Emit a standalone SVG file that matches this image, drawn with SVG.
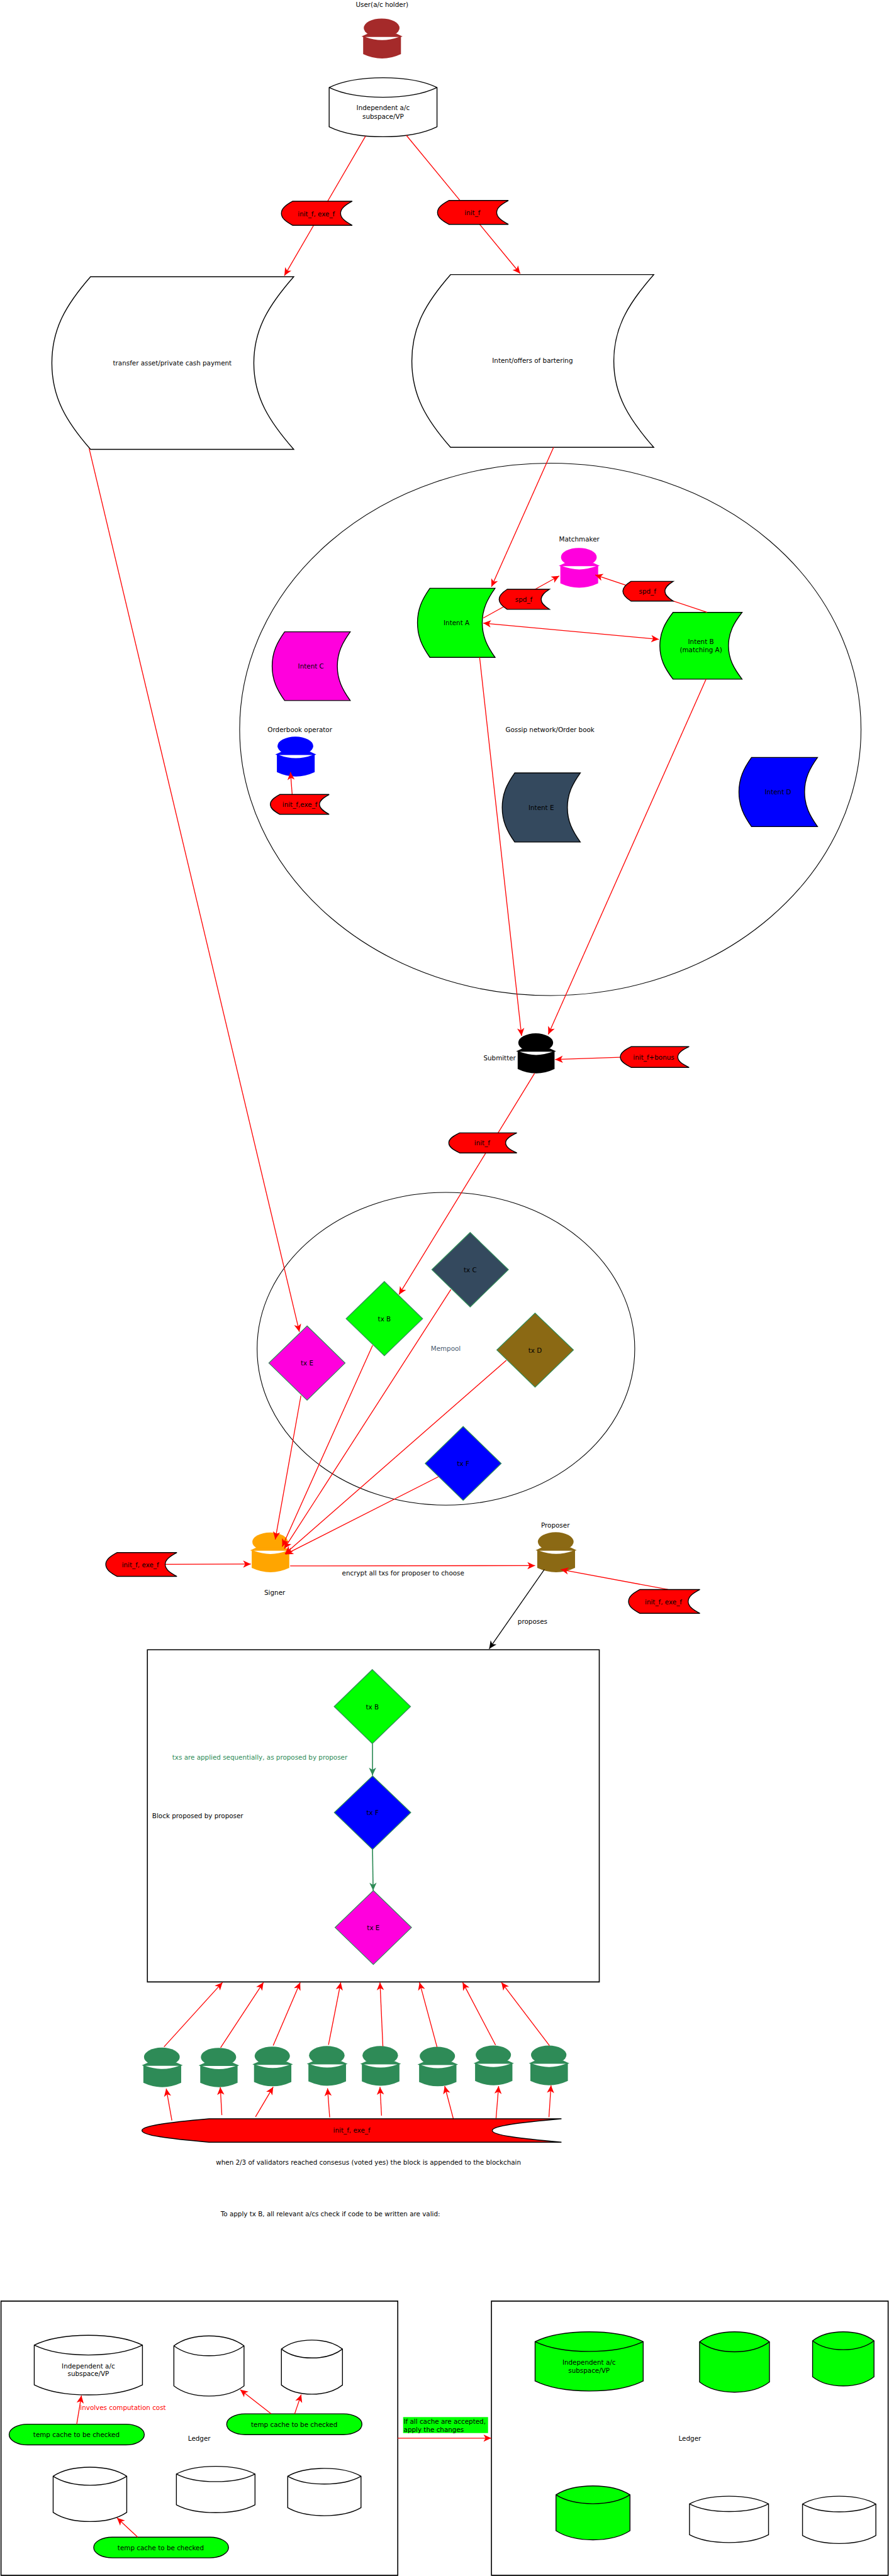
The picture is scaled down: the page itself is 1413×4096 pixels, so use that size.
<svg xmlns="http://www.w3.org/2000/svg" width="1413" height="4096" viewBox="0 0 1413 4096">
<style>
text{font-family:"DejaVu Sans",sans-serif;font-size:12.7px;fill:#000;text-anchor:middle;dominant-baseline:central}
symbol{overflow:visible}
.o{stroke:#000;stroke-width:1.4;vector-effect:non-scaling-stroke;stroke-linejoin:miter}
.w{fill:#fff}.r{fill:#f00}.g{fill:#0f0}.m{fill:#ff00dd}.b{fill:#00f}.n{fill:#34495e}.br{fill:#8b6914}.sg{fill:#2e8b57}
.c{fill:none;stroke:#f00;stroke-width:1.6;marker-end:url(#ar)}
.cb{stroke:#000;marker-end:url(#ak)}
.cg{stroke:#2e8b57;stroke-width:2;marker-end:url(#ag)}
.box{fill:none;stroke:#000;stroke-width:1.6;vector-effect:non-scaling-stroke}
.thin{stroke-width:1.1}
.d{stroke:#2e8b57;stroke-width:1.5}
</style>
<defs>
<marker id="ar" markerUnits="userSpaceOnUse" markerWidth="16" markerHeight="16" refX="15" refY="8" orient="auto-start-reverse" overflow="visible"><path d="M15,8L0,1L4,8L0,15Z" fill="#f00"/></marker>
<marker id="ak" markerUnits="userSpaceOnUse" markerWidth="16" markerHeight="16" refX="15" refY="8" orient="auto" overflow="visible"><path d="M15,8L0,1L4,8L0,15Z" fill="#000"/></marker>
<marker id="ag" markerUnits="userSpaceOnUse" markerWidth="16" markerHeight="16" refX="15" refY="8" orient="auto" overflow="visible"><path d="M15,8L0,1L4,8L0,15Z" fill="#2e8b57"/></marker>
<symbol id="person" viewBox="0 0 100 100" preserveAspectRatio="none">
<ellipse cx="49" cy="23.6" rx="43.5" ry="23.6"/>
<path d="M0,45L15,38H85L100,45L96,46V89Q50,111 4,89V46Z"/>
<path d="M9,46H91Q50,62 9,46Z" fill="#fff"/>
</symbol>
<symbol id="cyl" viewBox="0 0 100 100" preserveAspectRatio="none">
<path class="o" d="M0,16.5C25,-5.5 75,-5.5 100,16.5V83C75,105.5 25,105.5 0,83Z"/>
<path class="o" fill="none" d="M0,16.5C25,38.5 75,38.5 100,16.5"/>
</symbol>
<symbol id="doc" viewBox="0 0 100 100" preserveAspectRatio="none">
<path class="o" d="M16,0H100C90,16 83.5,30 83.5,50C83.5,70 90,84 100,100H16C6,84 0,70 0,50C0,30 6,16 16,0Z"/>
</symbol>
</defs>
<g transform="scale(0.8162)">
<g id="containers">
<ellipse id="gossip" class="box thin" cx="1071.7" cy="1420.9" rx="605" ry="518.5"/>
<text x="1071" y="1421">Gossip network/Order book</text>
<ellipse id="mempool" class="box thin" cx="868.4" cy="2627.6" rx="367.7" ry="304.6"/>
<text x="868" y="2627" style="fill:#4a5a70">Mempool</text>
<rect id="block" class="box" x="287" y="3214" width="880" height="647"/>
<text x="385" y="3536.7">Block proposed by proposer</text>
<text x="506" y="3423" style="fill:#2e8b57">txs are applied sequentially, as proposed by proposer</text>
<rect id="ledger1" class="box" x="2" y="4482.8" width="772.6" height="534.2"/>
<text x="388" y="4749.8">Ledger</text>
<rect id="ledger2" class="box" x="957" y="4482.8" width="772.5" height="534.2"/>
<text x="1343.3" y="4749.8">Ledger</text>
</g>
<g id="user"><text x="744" y="8.4">User(a/c holder)</text><use href="#person" x="704" y="36" width="80" height="78" fill="#a52a2a"/></g>
<g id="account"><use href="#cyl" class="w" x="641" y="151.5" width="210" height="115"/><text x="746" y="210">Independent a/c</text><text x="746" y="227">subspace/VP</text></g>
<g id="doc-transfer"><use href="#doc" class="w" x="101" y="539" width="471" height="336.4"/><text x="335.5" y="707">transfer asset/private cash payment</text></g>
<g id="doc-intent"><use href="#doc" class="w" x="802" y="535" width="471" height="336.5"/><text x="1037" y="702.6">Intent/offers of bartering</text></g>
<g id="matchmaker"><text x="1128" y="1050.5">Matchmaker</text><use href="#person" x="1088" y="1067.3" width="80" height="77.7" fill="#ff00dd"/></g>
<g id="intent-a"><use href="#doc" class="g" x="813" y="1146" width="151" height="134.6"/><text x="889" y="1212.5">Intent A</text></g>
<g id="intent-b"><use href="#doc" class="g" x="1285" y="1193" width="160" height="130"/><text x="1365" y="1249.7">Intent B</text><text x="1365" y="1265.8">(matching A)</text></g>
<g id="intent-c"><use href="#doc" class="m" x="530" y="1230.8" width="152" height="133.9"/><text x="605.5" y="1297.4">Intent C</text></g>
<g id="intent-d"><use href="#doc" class="b" x="1439" y="1475.6" width="153" height="134.7"/><text x="1515" y="1543">Intent D</text></g>
<g id="intent-e"><use href="#doc" class="n" x="978" y="1505.8" width="152" height="134.6"/><text x="1054" y="1573">Intent E</text></g>
<g id="orderbook"><text x="584" y="1421.6">Orderbook operator</text><use href="#person" x="536" y="1435" width="80" height="77.7" fill="#00f"/></g>
<g id="submitter"><text x="973" y="2061">Submitter</text><use href="#person" x="1005" y="2013" width="78" height="78" fill="#000"/></g>
<g id="tx-c"><path class="n d" d="M915.6,2401L990,2473.5L915.6,2546L841,2473.5Z"/><text x="915.6" y="2473.6">tx C</text></g>
<g id="tx-b"><path class="g d" d="M748.5,2496.6L823,2569L748.5,2641L674,2569Z"/><text x="748.5" y="2569">tx B</text></g>
<g id="tx-e"><path class="m d" d="M598,2583L672,2655.4L598,2727.7L523.6,2655.4Z"/><text x="598" y="2655">tx E</text></g>
<g id="tx-d"><path class="br d" d="M1042,2558L1116.7,2630L1042,2702.4L967.5,2630Z"/><text x="1042" y="2630">tx D</text></g>
<g id="tx-f"><path class="b d" d="M902,2779L976,2851L902,2923L828,2851Z"/><text x="902" y="2851">tx F</text></g>
<g id="signer"><use href="#person" x="487" y="2985.5" width="79.5" height="77.5" fill="#ffa500"/><text x="535" y="3102">Signer</text></g>
<g id="proposer"><text x="1081.5" y="2971">Proposer</text><use href="#person" x="1043" y="2985" width="80" height="78" fill="#8b6914"/></g>
<g id="block-tx-b"><path class="g d" d="M725,3252.5L799.5,3324.6L725,3396.7L650.7,3324.6Z"/><text x="725" y="3324.6">tx B</text></g>
<g id="block-tx-f"><path class="b d" d="M725.5,3459.6L800,3531L725.5,3603L651,3531Z"/><text x="725.5" y="3531">tx F</text></g>
<g id="block-tx-e"><path class="m d" d="M727,3683L801.3,3755L727,3827L652.5,3755Z"/><text x="727" y="3755">tx E</text></g>
<g id="validators" class="sg">
<use id="v1" href="#person" x="276" y="3989" width="80" height="77"/>
<use id="v2" href="#person" x="386.8" y="3989.4" width="79" height="76.6"/>
<use id="v3" href="#person" x="491.5" y="3987" width="79" height="77.4"/>
<use id="v4" href="#person" x="597.4" y="3986" width="79.6" height="77.4"/>
<use id="v5" href="#person" x="701.5" y="3986" width="79.5" height="77.4"/>
<use id="v6" href="#person" x="813" y="3987.5" width="79" height="76.9"/>
<use id="v7" href="#person" x="922" y="3985" width="79" height="77.4"/>
<use id="v8" href="#person" x="1029.7" y="3985" width="79.3" height="77.4"/>
</g>
<text x="717.5" y="4212.5">when 2/3 of validators reached consesus (voted yes) the block is appended to the blockchain</text>
<text x="643.4" y="4312.5">To apply tx B, all relevant a/cs check if code to be written are valid:</text>
<g id="l1-a"><use href="#cyl" class="w" x="66.7" y="4549.5" width="210.7" height="116.2"/><text x="172" y="4608.7">Independent a/c</text><text x="172" y="4624">subspace/VP</text></g>
<use id="l1-b" href="#cyl" class="w" x="338.6" y="4550.6" width="136.6" height="117.4"/>
<use id="l1-c" href="#cyl" class="w" x="548" y="4558.8" width="118.9" height="105.5"/>
<use id="l1-d" href="#cyl" class="w" x="103.5" y="4806.5" width="143.3" height="105.9"/>
<use id="l1-e" href="#cyl" class="w" x="343.5" y="4804.7" width="153.1" height="90.3"/>
<use id="l1-f" href="#cyl" class="w" x="560.3" y="4808.7" width="142.7" height="92.3"/>
<g id="l2-a"><use href="#cyl" class="g" x="1042" y="4542.7" width="210.5" height="115.5"/><text x="1147" y="4601.9">Independent a/c</text><text x="1147" y="4618">subspace/VP</text></g>
<use id="l2-b" href="#cyl" class="g" x="1362.3" y="4542.7" width="136.1" height="117.7"/>
<use id="l2-c" href="#cyl" class="g" x="1582.4" y="4542.7" width="119.6" height="105.5"/>
<use id="l2-d" href="#cyl" class="g" x="1082.7" y="4842.9" width="144.1" height="105.1"/>
<use id="l2-e" href="#cyl" class="w" x="1342.7" y="4862.9" width="153.9" height="90.5"/>
<use id="l2-f" href="#cyl" class="w" x="1562.8" y="4862.9" width="142.8" height="92.3"/>
<g id="pill1"><rect class="g o" x="17.8" y="4722.7" width="263.2" height="40.3" rx="36" ry="20"/><text x="148.8" y="4742.7">temp cache to be checked</text></g>
<g id="pill2"><rect class="g o" x="441.5" y="4702.4" width="263.3" height="40.6" rx="36" ry="20"/><text x="573" y="4722.7">temp cache to be checked</text></g>
<g id="pill3"><rect class="g o" x="182.5" y="4942.7" width="262.5" height="40.3" rx="36" ry="20"/><text x="313" y="4962.7">temp cache to be checked</text></g>
<g id="connectors">
<path class="c" d="M711.7,265.4L553.8,537"/>
<path class="c" d="M791.4,263.7L1013,533"/>
<path class="c" d="M1078,871.5L957,1143"/>
<path class="c" d="M173.6,873.7L583,2594.5"/>
<path class="c" d="M941,1204L1089,1122"/>
<path class="c" d="M1377,1193L1159,1120"/>
<path class="c" style="marker-start:url(#ar)" d="M941,1214L1283,1245.5"/>
<path class="c" d="M934,1280.6L1015.7,2018"/>
<path class="c" d="M1375,1323L1067.7,2015"/>
<path class="c" d="M569,1548L565.6,1504.3"/>
<path class="c" d="M1208,2059.6L1081,2064"/>
<path class="c" d="M1041,2091L777,2522"/>
<path class="c" d="M586,2719L536,2999"/>
<path class="c" d="M725.6,2621L549.6,3013"/>
<path class="c" d="M878,2512L553.5,3017"/>
<path class="c" d="M986,2650L555,3027"/>
<path class="c" d="M853.5,2877L556,3028"/>
<path class="c" d="M318,3047.6L488.4,3047"/>
<path class="c" d="M565,3050.6L1042,3050"/>
<path class="c" d="M1301,3096.6L1092,3057.5"/>
<path class="c cb" d="M1060,3057.5L952.6,3212"/>
<path class="c cg" d="M725.4,3396.7V3458.7"/>
<path class="c cg" d="M725.4,3603L726.6,3682.8"/>
<path class="c" d="M319.4,3987.5L433.3,3862"/>
<path class="c" d="M429.6,3989L513,3862"/>
<path class="c" d="M532,3984.8L584.6,3862"/>
<path class="c" d="M639.7,3983.5L663.6,3862"/>
<path class="c" d="M745.6,3986.5L740,3862"/>
<path class="c" d="M851,3987.8L817,3862"/>
<path class="c" d="M965,3984L901,3862"/>
<path class="c" d="M1070,3985L976.5,3862"/>
<path class="c" d="M334.7,4131L323.7,4069"/>
<path class="c" d="M432,4120.5L429,4066"/>
<path class="c" d="M497.6,4123.8L532,4065.7"/>
<path class="c" d="M642,4125L637.8,4068.3"/>
<path class="c" d="M743,4121.5L740,4065.7"/>
<path class="c" d="M882.8,4127.7L866,4064"/>
<path class="c" d="M966,4126.7L971,4064"/>
<path class="c" d="M1069,4124.4L1073,4062.4"/>
<path class="c" d="M149.4,4722.7L158.6,4666.8"/>
<path class="c" d="M527.9,4702.4L467.8,4655.4"/>
<path class="c" d="M573.8,4702.4L586.6,4665"/>
<path class="c" d="M268.2,4942.7L227.8,4905"/>
<path class="c" d="M774.6,4749.8H956.5"/>
</g>
<g id="label-proposes"><text x="1037" y="3158">proposes</text></g>
<g id="label-encrypt"><text x="785" y="3063.7">encrypt all txs for proposer to choose</text></g>
<g id="label-cost"><text x="239.5" y="4690" style="fill:#f00">involves computation cost</text></g>
<g id="label-apply"><rect class="g" x="785" y="4708.8" width="165.4" height="31.1"/><text x="786" y="4716.7" style="text-anchor:start">If all cache are accepted,</text><text x="786" y="4732.7" style="text-anchor:start">apply the changes</text></g>
<g id="tags">
<g id="tag1"><use href="#doc" class="r" x="548" y="392" width="138" height="47"/><text x="616" y="416">init_f, exe_f</text></g>
<g id="tag2"><use href="#doc" class="r" x="852" y="390.6" width="138" height="46.4"/><text x="920" y="414">init_f</text></g>
<g id="tag3"><use href="#doc" class="r" x="972" y="1148" width="98" height="39"/><text x="1020" y="1167.6">spd_f</text></g>
<g id="tag4"><use href="#doc" class="r" x="1213" y="1132.5" width="98" height="38.5"/><text x="1261" y="1151.5">spd_f</text></g>
<g id="tag5"><use href="#doc" class="r" x="526.5" y="1547.8" width="114.5" height="38.6"/><text x="584" y="1566.8">init_f,exe_f</text></g>
<g id="tag6"><use href="#doc" class="r" x="1208" y="2039" width="134" height="40.5"/><text x="1273" y="2059">init_f+bonus</text></g>
<g id="tag7"><use href="#doc" class="r" x="874" y="2207" width="132.5" height="39"/><text x="939" y="2226">init_f</text></g>
<g id="tag8"><use href="#doc" class="r" x="206" y="3024.6" width="138.5" height="46.4"/><text x="273.4" y="3048">init_f, exe_f</text></g>
<g id="tag9"><use href="#doc" class="r" x="1224" y="3096.6" width="139" height="46.4"/><text x="1292" y="3120">init_f, exe_f</text></g>
<g id="tag10"><use href="#doc" class="r" x="276.5" y="4127.7" width="816.9" height="45.6"/><text x="685" y="4150">init_f, exe_f</text></g>
</g>
</g>
</svg>
